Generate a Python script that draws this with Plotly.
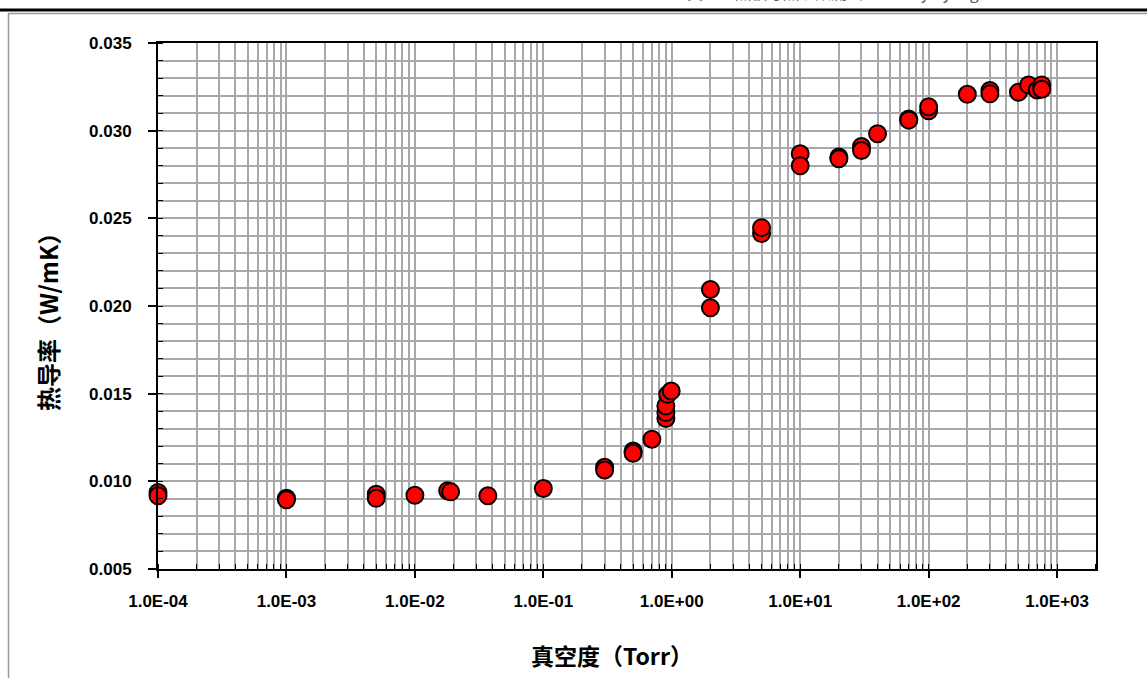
import plotly.graph_objects as go

# Data
pressure_torr = [1e-4, 1e-4, 1e-3, 1e-3, 5e-3, 5e-3, 1e-2, 0.018, 0.019, 0.037, 0.1,
                 0.3, 0.3, 0.5, 0.5, 0.7, 0.9, 0.9, 0.9, 0.93, 0.99,
                 2, 2, 5, 5, 10, 10, 20, 20, 30, 30, 40, 70, 70, 100, 100,
                 200, 300, 300, 500, 600, 700, 760, 760]
conductivity = [0.00937, 0.00918, 0.00903, 0.00895, 0.00927, 0.00903, 0.00921, 0.00946, 0.0094, 0.00918, 0.00959,
                0.0108, 0.01065, 0.01173, 0.0116, 0.0124, 0.01358, 0.01392, 0.0143, 0.01496, 0.01515,
                0.02094, 0.0199, 0.02413, 0.02447, 0.02868, 0.0280, 0.0285, 0.0284, 0.0291, 0.02887, 0.02982,
                0.03067, 0.0306, 0.03113, 0.03136,
                0.03208, 0.03229, 0.0321, 0.03219, 0.03261, 0.03232, 0.03261, 0.03236]

x_tickvals = [1e-4, 1e-3, 1e-2, 1e-1, 1e0, 1e1, 1e2, 1e3]
x_ticktext = ["1.0E-04", "1.0E-03", "1.0E-02", "1.0E-01", "1.0E+00", "1.0E+01", "1.0E+02", "1.0E+03"]
y_tickvals = [0.005, 0.010, 0.015, 0.020, 0.025, 0.030, 0.035]
y_ticktext = ["0.005", "0.010", "0.015", "0.020", "0.025", "0.030", "0.035"]

x_title = "真空度（Torr）"
y_title = "热导率（W/mK）"
header_text = "真空绝热板导热系数测试　　　by Kyang"

W, H = 1147, 678
L, R, T, B = 158, 51, 43, 109
pw, ph = W - L - R, H - T - B


def px_x(x):
    return (x - L) / pw


def px_y(y):
    return (H - B - y) / ph


fig = go.Figure()
fig.add_trace(go.Scatter(
    x=pressure_torr, y=conductivity, mode="markers",
    marker=dict(size=17, color="#FF0000", line=dict(color="black", width=2)),
    showlegend=False, cliponaxis=False,
))

tick_font = dict(family="Liberation Sans, Arial, sans-serif", size=17, color="black", weight="bold")
grid_col = "#A8A8A8"

fig.update_xaxes(
    type="log", range=[-4, 3.303],
    tickvals=x_tickvals, ticktext=x_ticktext, tickfont=tick_font,
    ticks="outside", ticklen=7, tickwidth=1.5, tickcolor="black",
    ticklabelstandoff=9,
    showline=True, linecolor="black", linewidth=2, mirror=True,
    showgrid=True, gridcolor=grid_col, gridwidth=2,
    minor=dict(dtick="D1", ticks="inside", ticklen=5, tickcolor="black", tickwidth=1,
               showgrid=True, gridcolor=grid_col, gridwidth=2),
    zeroline=False,
)
fig.update_yaxes(
    range=[0.005, 0.035],
    tickvals=y_tickvals, ticktext=y_ticktext, tickfont=tick_font,
    ticks="outside", ticklen=8, tickwidth=1.5, tickcolor="black",
    ticklabelstandoff=13,
    showline=True, linecolor="black", linewidth=2, mirror=True,
    showgrid=True, gridcolor=grid_col, gridwidth=2,
    minor=dict(dtick=0.001, ticks="inside", ticklen=5, tickcolor="black", tickwidth=1,
               showgrid=True, gridcolor=grid_col, gridwidth=2),
    zeroline=False,
)

annotations = [
    dict(text=y_title, xref="paper", yref="paper", x=px_x(47), y=px_y(316),
         textangle=-90, showarrow=False, xanchor="center", yanchor="middle",
         font=dict(family="Noto Sans CJK SC, sans-serif", size=24, color="black", weight="bold")),
    dict(text=x_title, xref="paper", yref="paper", x=px_x(612), y=px_y(655),
         showarrow=False, xanchor="center", yanchor="middle",
         font=dict(family="Noto Sans CJK SC, sans-serif", size=23, color="black", weight="bold")),
    dict(text=header_text, xref="paper", yref="paper", x=px_x(685), y=px_y(6),
         showarrow=False, xanchor="left", yanchor="bottom",
         font=dict(family="Noto Sans CJK SC, sans-serif", size=16, color="#555555")),
]

shapes = [
    dict(type="line", xref="paper", yref="paper", x0=px_x(0), x1=px_x(W), y0=px_y(10), y1=px_y(10),
         line=dict(color="black", width=3)),
    dict(type="line", xref="paper", yref="paper", x0=px_x(8), x1=px_x(W), y0=px_y(13.5), y1=px_y(13.5),
         line=dict(color="#999999", width=1.5)),
    dict(type="line", xref="paper", yref="paper", x0=px_x(8.5), x1=px_x(8.5), y0=px_y(13.5), y1=px_y(H),
         line=dict(color="#999999", width=1.5)),
]

fig.update_layout(
    width=W, height=H,
    margin=dict(l=L, r=R, t=T, b=B),
    paper_bgcolor="white", plot_bgcolor="white",
    annotations=annotations, shapes=shapes,
)

fig.write_html("out.html", config={"displayModeBar": False},
               post_script="document.body.style.margin='0px';document.body.style.overflow='hidden';")
